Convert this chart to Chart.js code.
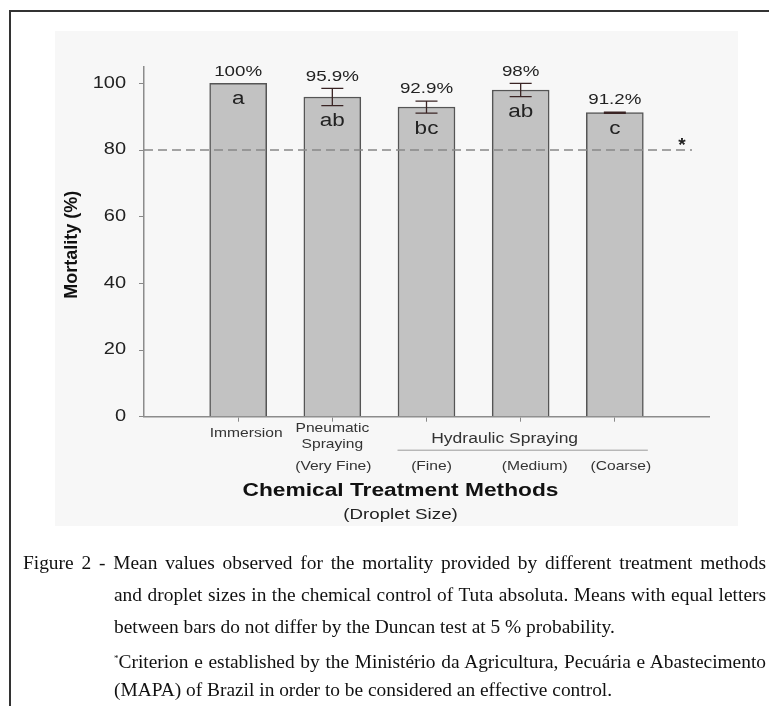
<!DOCTYPE html>
<html>
<head>
<meta charset="utf-8">
<script src="https://cdn.jsdelivr.net/npm/chart.js@4.4.1/dist/chart.umd.min.js"></script>
<style>
  body { margin: 0; width: 769px; height: 706px; background: #fff; position: relative; overflow: hidden; }
  .marco { position: absolute; left: 9px; top: 10px; right: -5px; bottom: -5px; border-top: 2px solid #333; border-left: 2px solid #333; }
  .panel { position: absolute; left: 55px; top: 31px; width: 683px; height: 495px; background: #f7f7f7; }
  #grafica { position: absolute; left: 0; top: 0; }
  .leyenda { position: absolute; left: 0; top: 547px; width: 769px; font-family: 'Liberation Serif', 'Times New Roman', serif; font-size: 19.4px; color: #111; }
  .leyenda div { position: absolute; height: 32px; line-height: 32px; white-space: nowrap; }
  .just { text-align: justify; text-align-last: justify; }
  sup { font-size: 9px; vertical-align: 7px; }
</style>
</head>
<body>
<div class="marco"></div>
<div class="panel"></div>
<canvas id="grafica" width="769" height="706"></canvas>
<div class="leyenda">
  <div class="just" style="left:23px; width:743px; top:0px;">Figure 2 - Mean values observed for the mortality provided by different treatment methods</div>
  <div class="just" style="left:114px; width:652px; top:32px;">and droplet sizes in the chemical control of Tuta absoluta. Means with equal letters</div>
  <div style="left:114px; top:64px;">between bars do not differ by the Duncan test at 5 % probability.</div>
  <div class="just" style="left:114px; width:652px; top:95px;"><sup>*</sup>Criterion e established by the Ministério da Agricultura, Pecuária e Abastecimento</div>
  <div style="left:114px; top:127px;">(MAPA) of Brazil in order to be considered an effective control.</div>
</div>

<script>
// datos de la grafica
const metodos = ['Immersion', 'Pneumatic Spraying', 'Hydraulic Spraying (Fine)', 'Hydraulic Spraying (Medium)', 'Hydraulic Spraying (Coarse)'];
const mortalidad = [100, 95.9, 92.9, 98, 91.2];
const errores = [0, 2.6, 1.8, 2.0, 0.2];
const etiquetasValor = ['100%', '95.9%', '92.9%', '98%', '91.2%'];
const letras = ['a', 'ab', 'bc', 'ab', 'c'];
const metodoLineas = [['Immersion'], ['Pneumatic', 'Spraying'], [], [], []];
const gotas = ['', '(Very Fine)', '(Fine)', '(Medium)', '(Coarse)'];
const grupoHidraulico = 'Hydraulic Spraying';
const criterio = 80;
const yTicks = [0, 20, 40, 60, 80, 100];

// el eje x lleva una casilla vacia a cada lado
const etiquetasX = [''].concat(metodos, ['']);
const datosX = [null].concat(mortalidad, [null]);

const FUENTE = 'Liberation Sans, Arial, sans-serif';
const SX = 1.25;

function texto(ctx, txt, x, y, size, opts) {
  opts = opts || {};
  ctx.save();
  ctx.translate(x, y);
  ctx.scale(opts.sx || SX, 1);
  ctx.font = (opts.bold ? 'bold ' : '') + size + 'px ' + FUENTE;
  ctx.fillStyle = opts.color || '#222';
  ctx.textAlign = opts.align || 'center';
  ctx.textBaseline = opts.base || 'middle';
  ctx.fillText(txt, 0, 0);
  ctx.restore();
}

const dibujos = {
  id: 'dibujos',
  afterDatasetsDraw(chart) {
    const ctx = chart.ctx;
    const x = chart.scales.x;
    const y = chart.scales.y;
    const area = chart.chartArea;

    // linea del criterio
    ctx.save();
    ctx.strokeStyle = '#888';
    ctx.lineWidth = 1.6;
    ctx.setLineDash([9, 5]);
    ctx.beginPath();
    ctx.moveTo(area.left, y.getPixelForValue(criterio));
    ctx.lineTo(area.right - 17, y.getPixelForValue(criterio));
    ctx.stroke();
    ctx.restore();
    texto(ctx, '*', area.right - 27, y.getPixelForValue(criterio) + 1, 19, { bold: true, base: 'alphabetic', sx: 1 });

    // barras de error, valores y letras
    for (let i = 0; i < mortalidad.length; i++) {
      const cx = x.getPixelForValue(i + 1);
      const arriba = y.getPixelForValue(mortalidad[i] + errores[i]);
      const abajo = y.getPixelForValue(mortalidad[i] - errores[i]);
      if (errores[i] > 0) {
        ctx.save();
        ctx.strokeStyle = '#3a2424';
        ctx.lineWidth = 1.3;
        ctx.beginPath();
        ctx.moveTo(cx, arriba); ctx.lineTo(cx, abajo);
        ctx.moveTo(cx - 11, arriba); ctx.lineTo(cx + 11, arriba);
        ctx.moveTo(cx - 11, abajo); ctx.lineTo(cx + 11, abajo);
        ctx.stroke();
        ctx.restore();
      }
      texto(ctx, etiquetasValor[i], cx, arriba - 12, 15);
      texto(ctx, letras[i], cx, abajo + 15.5, 18);
    }

    // etiquetas del eje y
    for (const v of yTicks) {
      texto(ctx, String(v), area.left - 18, y.getPixelForValue(v), 16, { align: 'right' });
    }
    ctx.save();
    ctx.translate(72, (area.top + area.bottom) / 2 + 3);
    ctx.rotate(-Math.PI / 2);
    ctx.font = 'bold 18px ' + FUENTE;
    ctx.fillStyle = '#111';
    ctx.textAlign = 'center';
    ctx.textBaseline = 'middle';
    ctx.fillText('Mortality (%)', 0, 0);
    ctx.restore();

    // etiquetas del eje x
    const b = area.bottom;
    const desplaz = [8, 1, 5, 14, 6];
    for (let i = 0; i < metodos.length; i++) {
      const cx = x.getPixelForValue(i + 1) + desplaz[i];
      const lineas = metodoLineas[i];
      if (lineas.length === 1) {
        texto(ctx, lineas[0], cx, b + 17, 13, { sx: 1.2, color: '#333' });
      } else {
        lineas.forEach((l, k) => texto(ctx, l, cx - 1, b + 12 + k * 15.5, 13, { sx: 1.2, color: '#333' }));
      }
      if (gotas[i]) texto(ctx, gotas[i], cx, b + 50, 13, { sx: 1.2, color: '#333' });
    }
    const h1 = x.getPixelForValue(3);
    const h2 = x.getPixelForValue(5);
    texto(ctx, grupoHidraulico, (h1 + h2) / 2 - 16, b + 22, 14, { color: '#333' });
    ctx.save();
    ctx.strokeStyle = '#9a9a9a';
    ctx.lineWidth = 1;
    ctx.beginPath();
    ctx.moveTo(h1 - 29, b + 33.5);
    ctx.lineTo(h2 + 33, b + 33.5);
    ctx.stroke();
    ctx.restore();
    texto(ctx, 'Chemical Treatment Methods', chart.width / 2 + 16, b + 74, 17.5, { bold: true, sx: 1.3, color: '#111' });
    texto(ctx, '(Droplet Size)', chart.width / 2 + 16, b + 98, 15, { color: '#222' });
  }
};

new Chart(document.getElementById('grafica').getContext('2d'), {
  type: 'bar',
  data: {
    labels: etiquetasX,
    datasets: [{
      data: datosX,
      backgroundColor: '#c2c2c2',
      borderColor: '#555',
      borderWidth: 1.5,
      barThickness: 57
    }]
  },
  options: {
    responsive: false,
    animation: false,
    layout: { padding: { left: 55, right: 60, top: 66.7, bottom: 284.3 } },
    plugins: { legend: { display: false }, tooltip: { enabled: false } },
    scales: {
      x: {
        offset: false,
        grid: {
          offset: false,
          drawOnChartArea: false,
          tickLength: 5,
          tickColor: (c) => (c.index === 0 || c.index === etiquetasX.length - 1) ? 'rgba(0,0,0,0)' : '#888'
        },
        border: { color: '#8c8c8c', width: 1.5 },
        ticks: { display: false },
        afterFit: (s) => { s.height = 5; }
      },
      y: {
        min: 0,
        max: 105,
        ticks: { display: false, stepSize: 20 },
        afterBuildTicks: (s) => { s.ticks = s.ticks.filter(t => yTicks.includes(t.value)); },
        grid: { drawOnChartArea: false, tickLength: 5, tickColor: '#888' },
        border: { color: '#8c8c8c', width: 1.5 },
        afterFit: (s) => { s.width = 89; }
      }
    }
  },
  plugins: [dibujos]
});
</script>
</body>
</html>
